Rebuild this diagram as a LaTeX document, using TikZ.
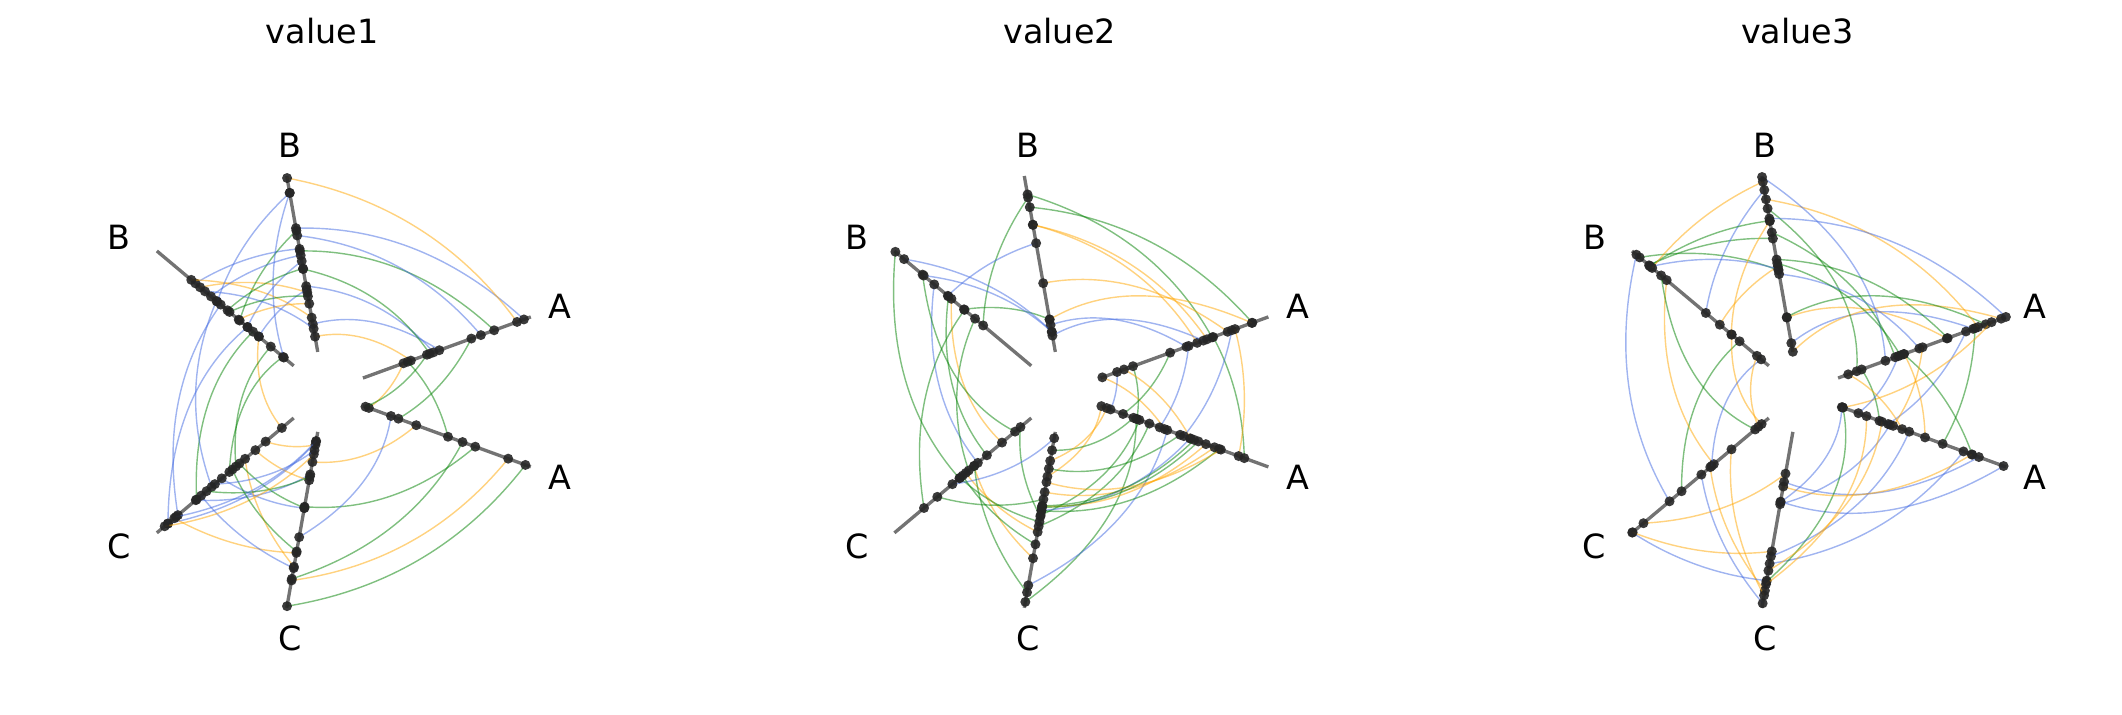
\documentclass[tikz,border=0pt]{standalone}
\usepackage{fontspec}
\setmainfont{DejaVu Sans}
\usetikzlibrary{calc}
\definecolor{cA}{RGB}{65,105,225}
\definecolor{cB}{RGB}{0,128,0}
\definecolor{cC}{RGB}{255,165,0}
\tikzset{axisline/.style={draw=black!55,line width=1.9pt},
 edge/.style={line width=0.8pt,opacity=0.5},
 dot/.style={fill=black!85,opacity=0.9},
 lab/.style={font=\fontsize{19}{22}\selectfont}}
\begin{document}
\begin{tikzpicture}[x=0.02707cm,y=0.02707cm]
\useasboundingbox (0,0) rectangle (1568,527.6);
\pgfmathsetseed{5}
\foreach \cx/\t in {240/value1,785/value2,1330/value3}{
  \node[lab] (t\t) at (\cx-2,505) {\t};
  \foreach \a in {20,100,140,220,260,340}{
    \draw[axisline] ($(\cx,238)+(\a:30)$) -- ($(\cx,238)+(\a:162)$);
  }
  \node[lab] (A1\t) at ($(\cx,238)+(20:185)$) {A};
  \node[lab] (A2\t) at ($(\cx,238)+(-20:185)$) {A};
  \node[lab] (B1\t) at ($(\cx,238)+(98:184)$) {B};
  \node[lab] (B2\t) at ($(\cx,238)+(143:190)$) {B};
  \node[lab] (C1\t) at ($(\cx,238)+(217:190)$) {C};
  \node[lab] (C2\t) at ($(\cx,238)+(262:184)$) {C};
  \foreach \k in {1,...,52}{
    \pgfmathsetmacro\myp{int(random(0,5))}
    \pgfmathsetmacro\angA{{20,100,140,220,260,340}[\myp]}
    \pgfmathsetmacro\angB{{100,140,220,260,340,380}[\myp]}
    \pgfmathsetmacro\radA{30+132*rnd}
    \pgfmathsetmacro\radB{30+132*rnd}
    \pgfmathsetmacro\angM{(\angA+\angB)/2}
    \pgfmathsetmacro\radM{(\radA+\radB)/2*1.02}
    \pgfmathsetmacro\cc{int(random(1,3))}
    \ifcase\cc\or\def\col{cA}\or\def\col{cB}\or\def\col{cC}\fi
    \coordinate (p\k) at ($(\cx,238)+(\angA:\radA)$);
    \coordinate (q\k) at ($(\cx,238)+(\angB:\radB)$);
    \coordinate (m\k) at ($(\cx,238)+(\angM:\radM)$);
    \draw[edge,draw=\col] (p\k) .. controls ($(p\k)!0.667!(m\k)$) and ($(q\k)!0.667!(m\k)$) .. (q\k);
    \fill[dot] (p\k) circle[radius=0.1cm];
    \fill[dot] (q\k) circle[radius=0.1cm];
  }
}
\end{tikzpicture}
\end{document}
